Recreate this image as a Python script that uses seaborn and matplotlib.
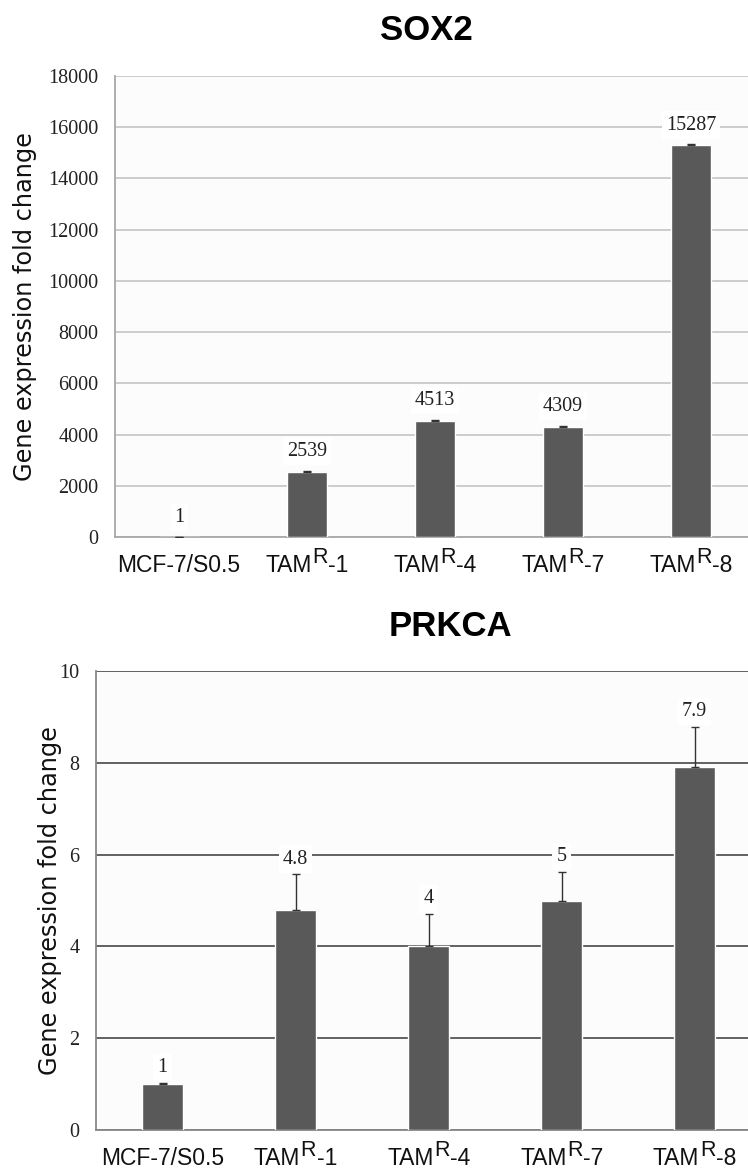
import matplotlib
matplotlib.use("Agg")
import matplotlib.pyplot as plt
import seaborn as sns
import pandas as pd

# ---- data ----
categories = ["MCF-7/S0.5", "TAM-1", "TAM-4", "TAM-7", "TAM-8"]
# tick labels as (base, superscript, suffix)
tick_labels = [("MCF-7/S0.5", "", ""), ("TAM", "R", "-1"), ("TAM", "R", "-4"),
               ("TAM", "R", "-7"), ("TAM", "R", "-8")]
sox2_values = [1, 2539, 4513, 4309, 15287]
sox2_errors = [0, 40, 40, 30, 40]
sox2_labels = ["1", "2539", "4513", "4309", "15287"]
prkca_values = [1, 4.8, 4.0, 5.0, 7.9]
prkca_errors = [0.02, 0.77, 0.7, 0.62, 0.88]
prkca_labels = ["1", "4.8", "4", "5", "7.9"]
sox2_yticks = [0, 2000, 4000, 6000, 8000, 10000, 12000, 14000, 16000, 18000]
prkca_yticks = [0, 2, 4, 6, 8, 10]

sans = "Liberation Sans"
serif = "Liberation Serif"

sns.set_theme(style="white")
plt.rcParams["font.family"] = ["DejaVu Sans"]

BAR = "#595959"
fig = plt.figure(figsize=(7.48, 11.7), dpi=100, facecolor="white")
groups = []

def panel(rect, values, errors, labels, yticks, ymax, title, title_xy,
          gridcolor, spinecolor, ylab_x, label_off):
    ax = fig.add_axes(rect)
    ax.set_facecolor("#fcfcfc")
    df = pd.DataFrame({"cat": categories, "val": values})
    sns.barplot(data=df, x="cat", y="val", color=BAR, width=0.31,
                saturation=1, errorbar=None, ax=ax, zorder=3)
    ax.errorbar(range(len(values)), values, yerr=[[0]*len(errors), errors],
                fmt="none", ecolor="#333333", elinewidth=1, capsize=3,
                capthick=1, zorder=4)
    for i, (v, e, t) in enumerate(zip(values, errors, labels)):
        ax.annotate(t, (i, v + e), xytext=(0, label_off), textcoords="offset points",
                    ha="center", va="center", fontsize=14.5, family=serif,
                    color="#222222", zorder=5,
                    bbox=dict(boxstyle="square,pad=0.2", fc="white", ec="none"))
    ax.set_xlim(-0.5, 4.5)
    ax.set_ylim(0, ymax)
    ax.set_yticks(yticks)
    ax.set_yticklabels([str(t) for t in yticks], family=serif, fontsize=14.5,
                       color="#222222")
    ax.yaxis.grid(True, color=gridcolor, linewidth=1.3, zorder=0)
    ax.set_axisbelow(True)
    ax.tick_params(axis="y", length=0, pad=12)
    ax.set_xticks(range(len(categories)))
    ax.set_xticklabels([])
    ax.tick_params(axis="x", length=0)
    # composite tick labels with a full-size raised "R"
    for i, (base, sup, suf) in enumerate(tick_labels):
        t1 = ax.annotate(base, xy=(i, 0), xycoords=("data", "axes fraction"),
                         xytext=(0, -25), textcoords="offset points",
                         ha="left", va="baseline", fontsize=16.5, family=sans,
                         color="#111111", annotation_clip=False)
        parts = [t1]
        if sup:
            t2 = ax.annotate(sup, xy=(1, 0), xycoords=t1, xytext=(0.3, 6.5),
                             textcoords="offset points", ha="left", va="bottom",
                             fontsize=15.5, family=sans, color="#111111",
                             annotation_clip=False)
            t3 = ax.annotate(suf, xy=(1, 0), xycoords=(t2, t1), xytext=(0.3, 0),
                             textcoords="offset points", ha="left", va="bottom",
                             fontsize=16.5, family=sans, color="#111111",
                             annotation_clip=False)
            parts += [t2, t3]
        groups.append(parts)
    for s in ["left", "bottom"]:
        ax.spines[s].set_color(spinecolor)
        ax.spines[s].set_linewidth(1.3)
    ax.spines["top"].set_visible(False)
    ax.spines["right"].set_visible(False)
    ax.set_xlabel("")
    ax.set_ylabel("Gene expression fold change", fontsize=17.3, color="#111111",
                  family="DejaVu Sans")
    ax.yaxis.set_label_coords(ylab_x, 0.5)
    fig.text(title_xy[0], title_xy[1], title, ha="center", va="center",
             fontsize=25, fontweight="bold", family=sans, color="black",
             bbox=dict(boxstyle="square,pad=0.3", fc="white", ec="none"))
    return ax

H = 1170.0
W = 748.0
# top panel: axis x 115..755, y 76..537
panel([115/W, 1 - 537/H, 640/W, 461/H], sox2_values, sox2_errors, sox2_labels,
      sox2_yticks, 18000, "SOX2", (426/W, 1 - 30/H), "#c8c8c8", "#a8a8a8", -0.122, 14)
# bottom panel: axis x 96..761, y 671..1130
panel([96/W, 1 - 1130/H, 665/W, 459/H], prkca_values, prkca_errors, prkca_labels,
      prkca_yticks, 10, "PRKCA", (450/W, 1 - 627/H), "#555555", "#888888", -0.051, 11)

# centre each composite label under its bar
fig.canvas.draw()
r = fig.canvas.get_renderer()
for parts in groups:
    x0 = parts[0].get_window_extent(r).x0
    x1 = parts[-1].get_window_extent(r).x1
    w_pts = (x1 - x0) * 72.0 / fig.dpi
    parts[0].xyann = (-w_pts / 2.0, parts[0].xyann[1])

fig.savefig("out.png", dpi=100, facecolor="white")
